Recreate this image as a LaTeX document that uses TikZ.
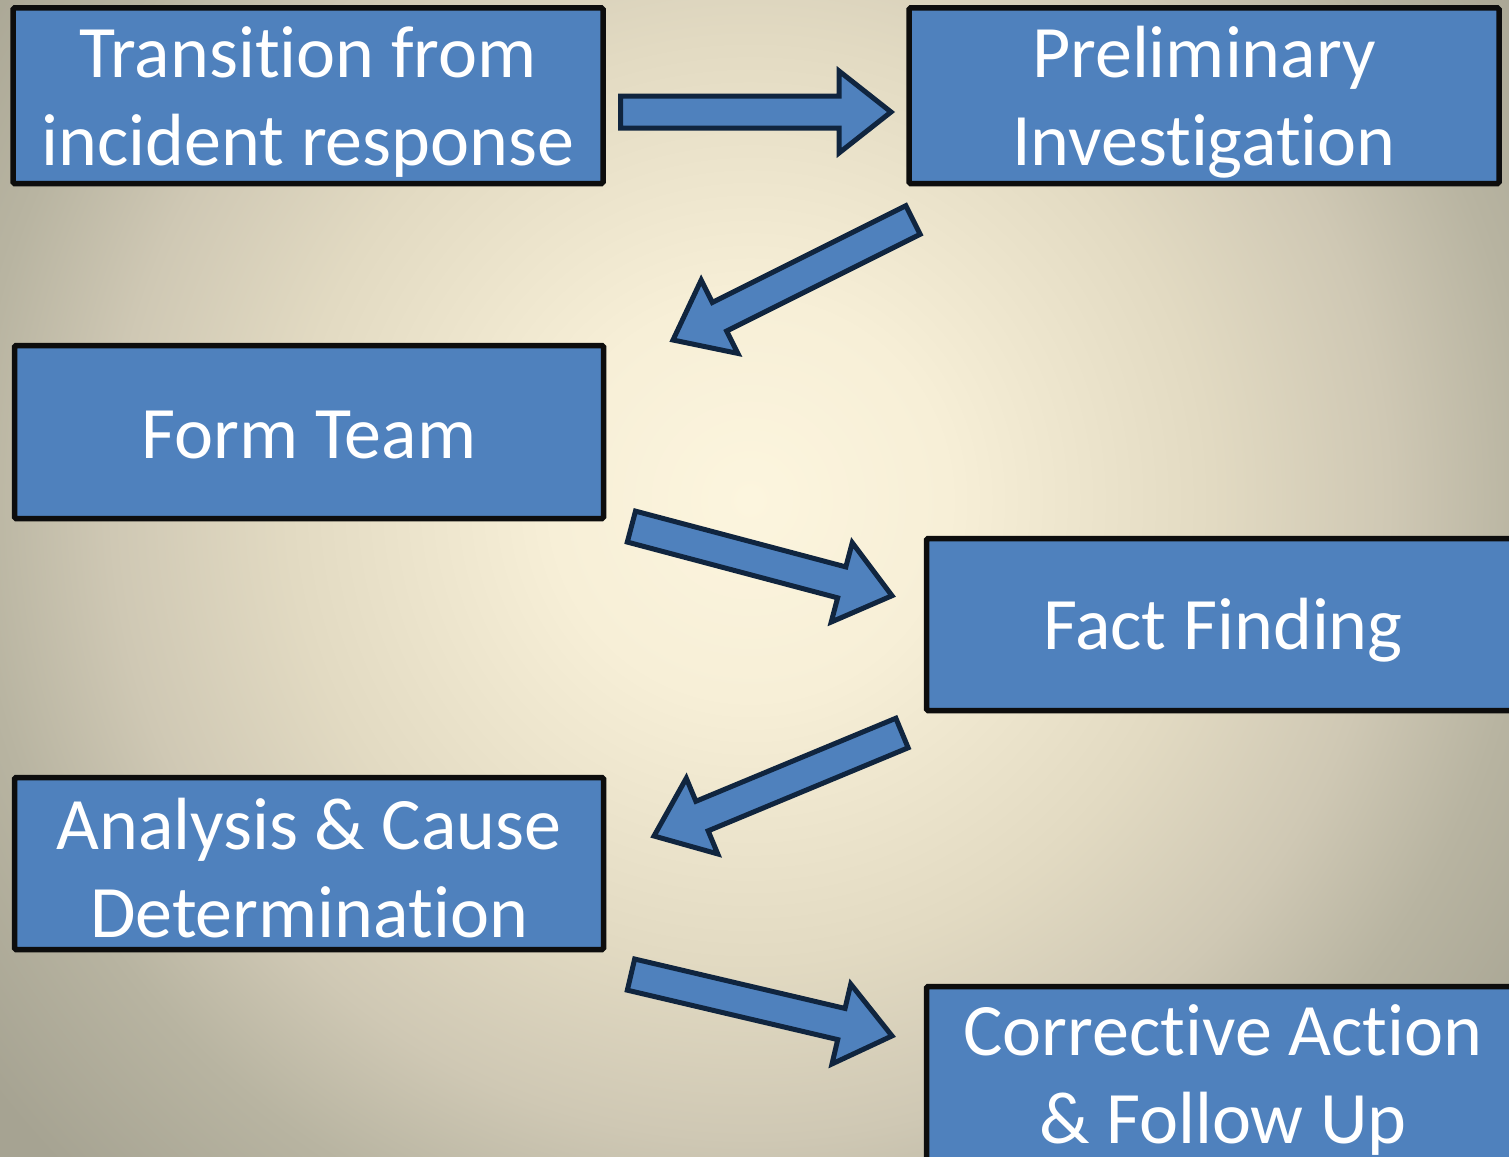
\documentclass[tikz,border=0pt]{standalone}
\usepackage{fontspec}
\setmainfont{Carlito}[Ligatures=NoCommon]
\usetikzlibrary{calc}
\definecolor{bgA}{HTML}{FCF5DE}
\definecolor{bgB}{HTML}{F7EFD7}
\definecolor{bgC}{HTML}{E2DAC2}
\definecolor{bgD}{HTML}{CFC8B4}
\definecolor{bgE}{HTML}{B8B4A1}
\definecolor{bgF}{HTML}{A6A392}
\definecolor{boxblue}{HTML}{4F81BD}
\definecolor{navy}{HTML}{10253F}
\pgfdeclareradialshading{bgshade}{\pgfpoint{0bp}{0bp}}{color(0bp)=(bgA); color(4.5bp)=(bgB); color(10.5bp)=(bgC); color(14.5bp)=(bgD); color(17.7bp)=(bgE); color(21.8bp)=(bgF); color(25bp)=(bgF); color(50bp)=(bgF)}
\newcommand\blockarr[2]{%
  \coordinate (hh) at ($(#2)!52pt!(#1)$);
  \draw[blockarrow]
    ($(#1)!16pt!90:(#2)$) -- ($(hh)!16pt!-90:(#1)$) -- ($(hh)!41pt!-90:(#1)$) --
    (#2) -- ($(hh)!41pt!90:(#1)$) -- ($(hh)!16pt!90:(#1)$) -- ($(#1)!16pt!-90:(#2)$) -- cycle;
}
\tikzset{
  stepbox/.style={draw=black!95, line width=5.5pt, fill=boxblue, rounded corners=1.5pt, inner sep=0pt},
  steptext/.style={text=white, inner sep=0pt, align=center, font=\fontsize{74}{88}\selectfont},
  blockarrow/.style={draw=navy, line width=5pt, fill=boxblue, line join=miter}
}
\begin{document}
\begin{tikzpicture}[x=1pt,y=-1pt]
\useasboundingbox (0,0) rectangle (1509,1156);
\clip (0,0) rectangle (1509,1156);
\shade[shading=bgshade] (750-1100,500-1100) rectangle (750+1100,500+1100);
% boxes
\node[stepbox, minimum width=590pt, minimum height=175.5pt] (b1) at (308,95.75) {};
\node[stepbox, minimum width=590pt, minimum height=175.5pt] (b2) at (1204,95.75) {};
\node[stepbox, minimum width=589pt, minimum height=173pt] (b3) at (309,432) {};
\node[stepbox, minimum width=593pt, minimum height=172pt] (b4) at (1223,624.5) {};
\node[stepbox, minimum width=589pt, minimum height=172pt] (b5) at (309,863.5) {};
\node[stepbox, minimum width=593pt, minimum height=175pt] (b6) at (1223,1074) {};
% texts
\node[steptext] (t1) at ($(b1.center)+(0,6)$) {Transition from\\incident response};
\node[steptext] (t2) at ($(b2.center)+(0,6)$) {Preliminary\\Investigation};
\node[steptext] (t3) at ($(b3.center)+(0,3)$) {Form Team};
\node[steptext] (t4) at ($(b4.center)+(0,6)$) {Fact Finding};
\node[steptext] (t5) at ($(b5.center)+(0,5)$) {Analysis \& Cause\\Determination};
\node[steptext] (t6) at ($(b6.center)+(0,6)$) {Corrective Action\\\& Follow Up};
% arrow ends
\coordinate (a1s) at (620.5,112);
\coordinate (a1e) at (891,112);
\coordinate (a2s) at (913,220);
\coordinate (a2e) at (673,340);
\coordinate (a3s) at (631.4,526.6);
\coordinate (a3e) at (892,595.7);
\coordinate (a4s) at (902,733);
\coordinate (a4e) at (654,836);
\coordinate (a5s) at (631,974.6);
\coordinate (a5e) at (892,1035.9);
\blockarr{a1s}{a1e}
\blockarr{a2s}{a2e}
\blockarr{a3s}{a3e}
\blockarr{a4s}{a4e}
\blockarr{a5s}{a5e}
\end{tikzpicture}
\end{document}
